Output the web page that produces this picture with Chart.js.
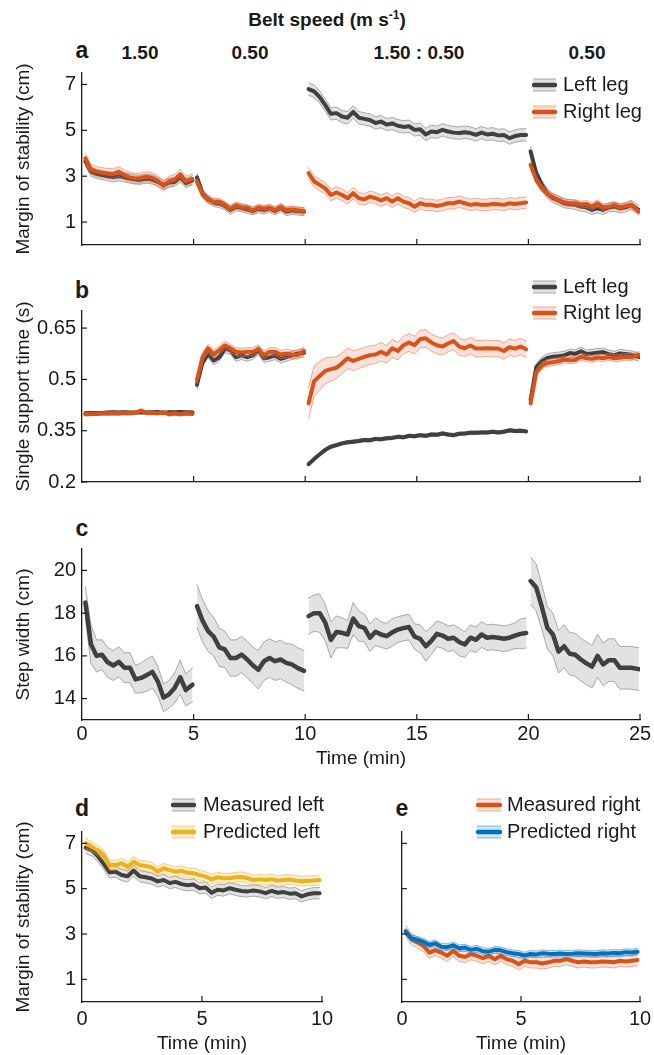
<!DOCTYPE html>
<html lang="en">
<head>
<meta charset="UTF-8">
<title>Belt speed adaptation</title>
<style>
  body { margin: 0; background: #fff; font-family: "Liberation Sans", Arial, sans-serif; }
  #fig { position: relative; width: 654px; height: 1055px; overflow: hidden; }
  canvas { position: absolute; }
  .lbl { position: absolute; transform: translate(-50%, -50%); white-space: nowrap; color: #1a1a1a; font-weight: bold; font-size: 19px; line-height: 1; }
  .panel { font-size: 23px; }
  sup { font-size: 12px; vertical-align: 7px; }
</style>
</head>
<body>
<div id="fig">
  <div class="lbl" style="left:327px;top:19px">Belt speed (m s<sup>-1</sup>)</div>
  <div class="lbl panel" style="left:82px;top:50px">a</div>
  <div class="lbl" style="left:140px;top:52px">1.50</div>
  <div class="lbl" style="left:250px;top:52px">0.50</div>
  <div class="lbl" style="left:419px;top:52px">1.50 : 0.50</div>
  <div class="lbl" style="left:587px;top:52px">0.50</div>
  <div class="lbl panel" style="left:82px;top:290px">b</div>
  <div class="lbl panel" style="left:82px;top:528px">c</div>
  <div class="lbl panel" style="left:82px;top:808px">d</div>
  <div class="lbl panel" style="left:402px;top:808px">e</div>

  <canvas id="chartA" width="654" height="200" style="left:0;top:60px"></canvas>
  <canvas id="chartB" width="654" height="240" style="left:0;top:260px"></canvas>
  <canvas id="chartC" width="654" height="280" style="left:0;top:500px"></canvas>
  <canvas id="chartD" width="340" height="275" style="left:0;top:780px"></canvas>
  <canvas id="chartE" width="314" height="275" style="left:340px;top:780px"></canvas>
</div>

<script src="https://cdn.jsdelivr.net/npm/chart.js"></script>
<script>
const FONT = "'Liberation Sans', Arial, sans-serif";
const INK = '#1a1a1a';

// sample times (min) of each walking block
const tB1 = [0.15, 0.40, 0.65, 0.90, 1.15, 1.40, 1.65, 1.90, 2.15, 2.40, 2.65, 2.90, 3.15, 3.40, 3.65, 3.90, 4.15, 4.40, 4.65, 4.95];
const tB2 = [5.15, 5.40, 5.65, 5.90, 6.15, 6.40, 6.65, 6.90, 7.15, 7.40, 7.65, 7.90, 8.15, 8.40, 8.65, 8.90, 9.15, 9.40, 9.65, 9.95];
const tB3 = [10.15, 10.40, 10.65, 10.90, 11.15, 11.40, 11.65, 11.90, 12.15, 12.40, 12.65, 12.90, 13.15, 13.40, 13.65, 13.90, 14.15, 14.40, 14.65, 14.90,
             15.15, 15.40, 15.65, 15.90, 16.15, 16.40, 16.65, 16.90, 17.15, 17.40, 17.65, 17.90, 18.15, 18.40, 18.65, 18.90, 19.15, 19.40, 19.65, 19.90];
const tB4 = [20.10, 20.35, 20.60, 20.85, 21.10, 21.35, 21.60, 21.85, 22.10, 22.35, 22.60, 22.85, 23.10, 23.35, 23.60, 23.85, 24.10, 24.35, 24.60, 24.95];
const tSplit = [0.15, 0.40, 0.65, 0.90, 1.15, 1.40, 1.65, 1.90, 2.15, 2.40, 2.65, 2.90, 3.15, 3.40, 3.65, 3.90, 4.15, 4.40, 4.65, 4.90,
                5.15, 5.40, 5.65, 5.90, 6.15, 6.40, 6.65, 6.90, 7.15, 7.40, 7.65, 7.90, 8.15, 8.40, 8.65, 8.90, 9.15, 9.40, 9.65, 9.90];
const blockTimes = [tB1, tB2, tB3, tB4];

// tick labels
const xTicksLong = [0, 5, 10, 15, 20, 25];
const xTicksShort = [0, 5, 10];
const yTicksMos = [1, 3, 5, 7];
const yTicksSst = [0.2, 0.35, 0.5, 0.65];
const yTicksSw = [14, 16, 18, 20];

// a: margin of stability (cm), one list per block
const mosLeft = [
  [3.65, 3.2, 3.1, 3.05, 3.0, 2.95, 3.0, 2.95, 2.9, 2.85, 2.85, 2.9, 2.85, 2.75, 2.62, 2.72, 2.75, 2.95, 2.7, 2.82],
  [2.95, 2.25, 2.0, 1.85, 1.8, 1.7, 1.52, 1.66, 1.62, 1.55, 1.48, 1.58, 1.52, 1.6, 1.48, 1.62, 1.45, 1.5, 1.48, 1.45],
  [6.8, 6.7, 6.45, 6.1, 5.72, 5.75, 5.6, 5.55, 5.8, 5.55, 5.5, 5.45, 5.32, 5.38, 5.25, 5.3, 5.2, 5.15, 5.18, 5.02,
   5.05, 4.82, 4.95, 4.92, 5.02, 4.95, 4.9, 4.88, 4.92, 4.88, 4.8, 4.9, 4.82, 4.85, 4.78, 4.8, 4.66, 4.75, 4.8, 4.8],
  [4.08, 3.13, 2.62, 2.25, 2.04, 1.94, 1.82, 1.79, 1.75, 1.67, 1.64, 1.53, 1.6, 1.53, 1.64, 1.67, 1.6, 1.64, 1.75, 1.53]
];
const mosRight = [
  [3.78, 3.3, 3.2, 3.15, 3.12, 3.1, 3.2, 3.05, 2.95, 2.9, 2.92, 2.98, 2.92, 2.8, 2.58, 2.78, 2.85, 3.08, 2.78, 2.88],
  [2.75, 2.2, 1.97, 1.88, 1.88, 1.75, 1.58, 1.72, 1.65, 1.62, 1.5, 1.62, 1.58, 1.62, 1.52, 1.66, 1.52, 1.55, 1.52, 1.48],
  [3.13, 2.77, 2.62, 2.47, 2.18, 2.29, 2.18, 2.04, 2.26, 2.04, 1.99, 2.11, 2.04, 1.94, 2.04, 1.89, 2.04, 1.89, 1.82, 1.67,
   1.82, 1.75, 1.75, 1.70, 1.75, 1.82, 1.82, 1.89, 1.82, 1.75, 1.79, 1.75, 1.75, 1.79, 1.78, 1.75, 1.82, 1.79, 1.82, 1.85],
  [3.49, 2.84, 2.47, 2.23, 2.08, 1.97, 1.86, 1.82, 1.82, 1.75, 1.79, 1.67, 1.82, 1.64, 1.67, 1.75, 1.64, 1.7, 1.75, 1.46]
];
const mosLeftErr = [0.2, 0.17, 0.27, 0.2];
const mosRightErr = [0.22, 0.15, 0.25, 0.15];

// b: single support time (s)
const sstLeft = [
  [0.401, 0.402, 0.402, 0.402, 0.403, 0.404, 0.403, 0.404, 0.403, 0.403, 0.404, 0.403, 0.404, 0.405, 0.402, 0.404, 0.404, 0.405, 0.404, 0.403],
  [0.484, 0.55, 0.575, 0.555, 0.565, 0.59, 0.585, 0.565, 0.57, 0.565, 0.57, 0.585, 0.562, 0.565, 0.57, 0.56, 0.565, 0.57, 0.575, 0.578],
  [0.252, 0.267, 0.281, 0.294, 0.303, 0.308, 0.313, 0.316, 0.318, 0.32, 0.323, 0.322, 0.326, 0.325, 0.328, 0.329, 0.332, 0.331, 0.335, 0.334,
   0.337, 0.335, 0.339, 0.338, 0.342, 0.339, 0.337, 0.341, 0.342, 0.344, 0.344, 0.345, 0.345, 0.347, 0.345, 0.347, 0.351, 0.349, 0.35, 0.348],
  [0.44, 0.535, 0.553, 0.563, 0.566, 0.568, 0.57, 0.577, 0.575, 0.582, 0.574, 0.576, 0.578, 0.58, 0.574, 0.57, 0.576, 0.574, 0.572, 0.565]
];
const sstRight = [
  [0.398, 0.399, 0.399, 0.400, 0.400, 0.401, 0.400, 0.402, 0.401, 0.403, 0.409, 0.402, 0.402, 0.401, 0.404, 0.398, 0.400, 0.398, 0.400, 0.399],
  [0.498, 0.565, 0.591, 0.573, 0.586, 0.600, 0.591, 0.581, 0.579, 0.581, 0.581, 0.589, 0.571, 0.581, 0.581, 0.573, 0.576, 0.573, 0.571, 0.583],
  [0.43, 0.495, 0.51, 0.525, 0.53, 0.534, 0.547, 0.562, 0.554, 0.56, 0.566, 0.571, 0.573, 0.581, 0.573, 0.591, 0.583, 0.60, 0.608, 0.60,
   0.618, 0.62, 0.608, 0.60, 0.596, 0.605, 0.612, 0.596, 0.591, 0.599, 0.59, 0.59, 0.591, 0.59, 0.59, 0.583, 0.594, 0.59, 0.596, 0.588],
  [0.43, 0.52, 0.54, 0.548, 0.55, 0.553, 0.558, 0.556, 0.557, 0.566, 0.562, 0.56, 0.564, 0.562, 0.566, 0.562, 0.563, 0.566, 0.565, 0.572]
];
const sstLeftErr = [0.004, 0.012, 0.005, 0.012];
const sstRightErr = [0.005, 0.012,
  [0.045, 0.045, 0.042, 0.038, 0.035, 0.032, 0.03, 0.03, 0.029, 0.028, 0.028, 0.027, 0.027, 0.027, 0.026, 0.026, 0.026, 0.026, 0.026, 0.026,
   0.026, 0.026, 0.025, 0.025, 0.025, 0.025, 0.025, 0.025, 0.024, 0.024, 0.024, 0.024, 0.024, 0.024, 0.024, 0.024, 0.024, 0.024, 0.024, 0.024],
  0.01];

// c: step width (cm)
const stepWidth = [
  [18.5, 16.55, 16.0, 16.05, 15.7, 15.55, 15.72, 15.45, 15.45, 14.9, 14.97, 15.1, 15.25, 14.8, 14.05, 14.2, 14.5, 15.0, 14.4, 14.65],
  [18.33, 17.65, 17.16, 16.9, 16.4, 16.3, 15.9, 15.9, 16.06, 15.83, 15.56, 15.35, 15.75, 15.9, 15.75, 15.83, 15.67, 15.6, 15.44, 15.3],
  [17.86, 18.0, 18.0, 17.55, 16.75, 17.12, 17.08, 17.0, 17.75, 17.39, 17.31, 16.85, 17.13, 17.0, 16.92, 17.1, 17.23, 17.3, 17.35, 16.9,
   16.8, 16.45, 16.7, 17.03, 16.95, 16.8, 16.85, 16.65, 16.53, 16.85, 16.75, 17.0, 16.85, 16.88, 16.85, 16.8, 16.85, 16.95, 17.03, 17.07],
  [19.5, 19.2, 18.3, 17.31, 17.0, 16.2, 16.45, 16.1, 16.05, 15.83, 15.65, 15.5, 16.0, 15.6, 15.8, 15.8, 15.44, 15.45, 15.44, 15.38]
];
const stepWidthErr = [
  [0.75, 0.9, 0.75, 0.7, 0.7, 0.7, 0.7, 0.7, 0.7, 0.65, 0.7, 0.75, 0.75, 0.7, 0.65, 0.65, 0.7, 0.8, 0.75, 0.8],
  [1.0, 1.0, 0.95, 0.9, 0.9, 0.85, 0.85, 0.85, 0.85, 0.85, 0.85, 0.9, 0.9, 0.9, 0.9, 0.9, 0.9, 0.95, 0.95, 0.95],
  [0.85, 0.85, 0.9, 0.85, 0.85, 0.75, 0.7, 0.65, 0.75, 0.7, 0.65, 0.65, 0.65, 0.6, 0.6, 0.65, 0.6, 0.6, 0.6, 0.6,
   0.65, 0.7, 0.65, 0.6, 0.6, 0.6, 0.6, 0.65, 0.6, 0.6, 0.6, 0.6, 0.6, 0.6, 0.6, 0.6, 0.6, 0.6, 0.7, 0.7],
  [1.1, 1.1, 1.05, 1.0, 1.0, 1.0, 1.0, 1.0, 1.0, 1.0, 1.0, 1.0, 1.0, 1.0, 1.0, 1.0, 1.0, 1.0, 1.0, 1.0]
];

// d, e: split-belt block, measured vs predicted margin of stability (cm)
const measuredLeft = mosLeft[2];
const measuredRight = mosRight[2];
const predictedLeft = [7.0, 6.85, 6.7, 6.49, 6.04, 6.04, 6.12, 5.97, 6.19, 6.04, 6.0, 5.94, 5.75, 5.9, 5.82, 5.75, 5.79, 5.7, 5.68, 5.6,
                       5.53, 5.41, 5.5, 5.46, 5.46, 5.5, 5.52, 5.46, 5.38, 5.41, 5.38, 5.42, 5.35, 5.38, 5.4, 5.36, 5.33, 5.35, 5.36, 5.38];
const predictedRight = [3.1, 2.81, 2.74, 2.66, 2.52, 2.59, 2.44, 2.42, 2.5, 2.37, 2.4, 2.3, 2.35, 2.24, 2.22, 2.3, 2.28, 2.2, 2.15, 2.12,
                        2.05, 2.12, 2.1, 2.15, 2.13, 2.12, 2.14, 2.12, 2.13, 2.15, 2.14, 2.13, 2.12, 2.15, 2.14, 2.16, 2.15, 2.2, 2.18, 2.22];

const COL = {
  gray:   { line: '#404040', fill: 'rgba(150,150,150,0.28)', edge: 'rgba(110,110,110,0.55)' },
  orange: { line: '#d95319', fill: 'rgba(232,110,70,0.2)',   edge: 'rgba(236,120,80,0.6)' },
  yellow: { line: '#edb120', fill: 'rgba(237,177,32,0.2)',   edge: 'rgba(237,177,32,0.55)' },
  blue:   { line: '#0072bd', fill: 'rgba(0,114,189,0.18)',   edge: 'rgba(0,114,189,0.45)' }
};

// band (mean +/- error) for each block, then the mean line
function addSeries(datasets, times, blocks, err, col, lw) {
  blocks.forEach((blk, b) => {
    const t = times[b];
    const e = i => Array.isArray(err[b]) ? err[b][i] : err[b];
    const iu = datasets.length;
    const base = { pointRadius: 0, tension: 0, borderJoinStyle: 'round', borderCapStyle: 'round' };
    datasets.push({ ...base, data: blk.map((v, i) => ({ x: t[i], y: v + e(i) })), borderColor: col.edge, borderWidth: 1, backgroundColor: col.fill, fill: iu + 1 });
    datasets.push({ ...base, data: blk.map((v, i) => ({ x: t[i], y: v - e(i) })), borderColor: col.edge, borderWidth: 1, fill: false });
    datasets.push({ ...base, data: blk.map((v, i) => ({ x: t[i], y: v })), borderColor: col.line, borderWidth: lw, fill: false });
  });
}

// MATLAB style ticks that point into the axes
const inwardTicks = {
  id: 'inwardTicks',
  afterDraw(chart) {
    const { ctx, chartArea: a } = chart;
    const x = chart.scales.x, y = chart.scales.y;
    ctx.save();
    ctx.strokeStyle = INK;
    ctx.lineWidth = 1.2;
    x.ticks.forEach(t => {
      const px = x.getPixelForValue(t.value);
      if (px <= a.left + 1) return;
      ctx.beginPath(); ctx.moveTo(px, a.bottom); ctx.lineTo(px, a.bottom - 6); ctx.stroke();
    });
    y.ticks.forEach(t => {
      const py = y.getPixelForValue(t.value);
      ctx.beginPath(); ctx.moveTo(a.left, py); ctx.lineTo(a.left + 5, py); ctx.stroke();
    });
    ctx.restore();
  }
};

const bandLegend = {
  id: 'bandLegend',
  afterDraw(chart, args, opts) {
    if (!opts.items) return;
    const ctx = chart.ctx;
    ctx.save();
    opts.items.forEach((it, k) => {
      const y = opts.y[k], c = it.col;
      ctx.fillStyle = c.fill;
      ctx.fillRect(opts.x0, y - 6, opts.x1 - opts.x0, 12);
      ctx.strokeStyle = c.edge; ctx.lineWidth = 1;
      ctx.beginPath(); ctx.moveTo(opts.x0, y - 6); ctx.lineTo(opts.x1, y - 6); ctx.moveTo(opts.x0, y + 6); ctx.lineTo(opts.x1, y + 6); ctx.stroke();
      ctx.strokeStyle = c.line; ctx.lineWidth = 4.5; ctx.lineCap = 'round';
      ctx.beginPath(); ctx.moveTo(opts.x0 + 1, y); ctx.lineTo(opts.x1 - 1, y); ctx.stroke();
      ctx.fillStyle = INK; ctx.font = '20px ' + FONT; ctx.textBaseline = 'middle';
      ctx.fillText(it.label, opts.tx, y);
    });
    ctx.restore();
  }
};

function makeChart(id, cfg) {
  const datasets = [];
  cfg.series.forEach(s => addSeries(datasets, s.times, s.blocks, s.err, s.col, s.lw));
  datasets.forEach((d, i) => { d.order = -i; });
  const tickFont = { family: FONT, size: 20 };
  const titleFont = { family: FONT, size: 19 };
  new Chart(document.getElementById(id), {
    type: 'line',
    data: { datasets },
    options: {
      animation: false,
      responsive: false,
      events: [],
      layout: { padding: { top: cfg.top, right: cfg.right, left: 0, bottom: 0 } },
      plugins: {
        legend: { display: false },
        tooltip: { enabled: false },
        bandLegend: cfg.legend || {}
      },
      scales: {
        x: {
          type: 'linear', min: cfg.xMin, max: cfg.xMax,
          afterBuildTicks: s => { s.ticks = cfg.xTicks.map(v => ({ value: v })); },
          afterFit: s => { s.height = cfg.xh; s.paddingLeft = 0; s.paddingRight = 0; },
          ticks: { display: cfg.xLabels, font: tickFont, color: INK, padding: cfg.xTickPad || 0, maxRotation: 0, callback: v => String(v) },
          grid: { display: false, drawTicks: false },
          border: { display: true, color: INK, width: 1.3 },
          title: { display: cfg.xLabels, text: 'Time (min)', font: titleFont, color: INK, padding: { top: 0, bottom: cfg.xTitlePad || 0 } }
        },
        y: {
          min: cfg.yMin, max: cfg.yMax,
          afterBuildTicks: s => { s.ticks = cfg.yTicks.map(v => ({ value: v })); },
          afterFit: s => { s.width = cfg.yw; s.paddingTop = 0; s.paddingBottom = 0; },
          ticks: { display: !!cfg.yTitle, font: tickFont, color: INK, padding: 6, callback: v => String(v) },
          grid: { display: false, drawTicks: false },
          border: { display: true, color: INK, width: 1.3 },
          title: { display: !!cfg.yTitle, text: cfg.yTitle, font: titleFont, color: INK, padding: { top: 12, bottom: 0 } }
        }
      }
    },
    plugins: [inwardTicks, bandLegend]
  });
}

const legLR = { items: [{ label: 'Left leg', col: COL.gray }, { label: 'Right leg', col: COL.orange }], x0: 533, x1: 556, tx: 563 };

makeChart('chartA', {
  top: 13, right: 14, xh: 15, yw: 82, xMin: 0, xMax: 25, yMin: 0, yMax: 7.5,
  xTicks: xTicksLong, yTicks: yTicksMos, xLabels: false, yTitle: 'Margin of stability (cm)',
  legend: { ...legLR, y: [25, 52] },
  series: [
    { times: blockTimes, blocks: mosLeft, err: mosLeftErr, col: COL.gray, lw: 4 },
    { times: blockTimes, blocks: mosRight, err: mosRightErr, col: COL.orange, lw: 4 }
  ]
});

makeChart('chartB', {
  top: 51, right: 14, xh: 18, yw: 82, xMin: 0, xMax: 25, yMin: 0.2, yMax: 0.7,
  xTicks: xTicksLong, yTicks: yTicksSst, xLabels: false, yTitle: 'Single support time (s)',
  legend: { ...legLR, y: [27, 53] },
  series: [
    { times: blockTimes, blocks: sstLeft, err: sstLeftErr, col: COL.gray, lw: 4 },
    { times: blockTimes, blocks: sstRight, err: sstRightErr, col: COL.orange, lw: 4 }
  ]
});

makeChart('chartC', {
  top: 49, right: 14, xh: 60, yw: 82, xMin: 0, xMax: 25, yMin: 13, yMax: 21,
  xTicks: xTicksLong, yTicks: yTicksSw, xLabels: true, xTickPad: 2, xTitlePad: 10, yTitle: 'Step width (cm)',
  series: [
    { times: blockTimes, blocks: stepWidth, err: stepWidthErr, col: COL.gray, lw: 4.5 }
  ]
});

makeChart('chartD', {
  top: 52, right: 18, xh: 53, yw: 82, xMin: 0, xMax: 10, yMin: 0, yMax: 7.5,
  xTicks: xTicksShort, yTicks: yTicksMos, xLabels: true, xTickPad: 5, xTitlePad: 0, yTitle: 'Margin of stability (cm)',
  legend: { items: [{ label: 'Measured left', col: COL.gray }, { label: 'Predicted left', col: COL.yellow }], x0: 172, x1: 195, tx: 203, y: [25, 52] },
  series: [
    { times: [tSplit], blocks: [measuredLeft], err: [0.25], col: COL.gray, lw: 4 },
    { times: [tSplit], blocks: [predictedLeft], err: [0.22], col: COL.yellow, lw: 4 }
  ]
});

makeChart('chartE', {
  top: 52, right: 14, xh: 53, yw: 62, xMin: 0, xMax: 10, yMin: 0, yMax: 7.5,
  xTicks: xTicksShort, yTicks: yTicksMos, xLabels: true, xTickPad: 5, xTitlePad: 0, yTitle: '',
  legend: { items: [{ label: 'Measured right', col: COL.orange }, { label: 'Predicted right', col: COL.blue }], x0: 137, x1: 161, tx: 167, y: [25, 52] },
  series: [
    { times: [tSplit], blocks: [measuredRight], err: [0.25], col: COL.orange, lw: 4 },
    { times: [tSplit], blocks: [predictedRight], err: [0.15], col: COL.blue, lw: 4 }
  ]
});
</script>
</body>
</html>
